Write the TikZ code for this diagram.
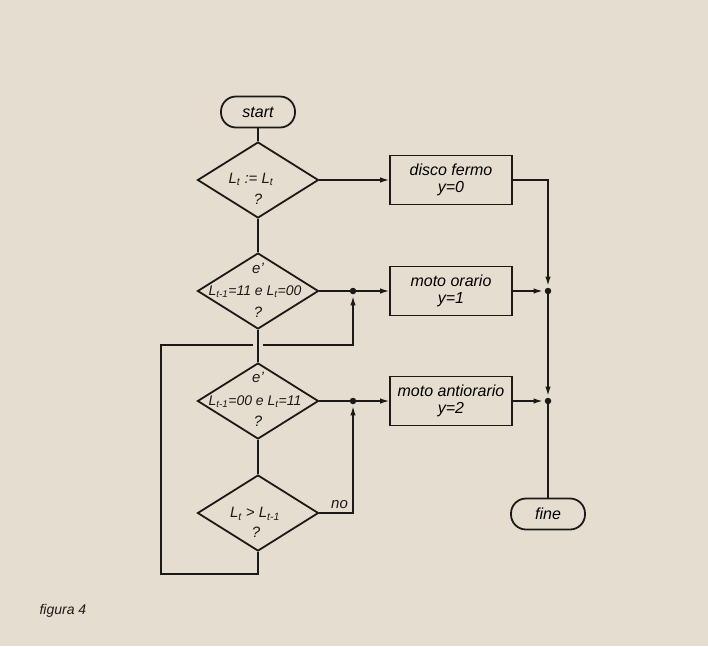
\documentclass[tikz,border=0pt]{standalone}
\usepackage{fontspec}
\setmainfont{Liberation Sans}
\usetikzlibrary{arrows.meta, calc, shapes.geometric}
\definecolor{Paper}{RGB}{229,221,207}
\definecolor{Ink}{RGB}{28,26,24}
\newcommand{\chartfont}{\fontsize{16}{17}\selectfont\itshape}
\newcommand{\dfont}{\fontsize{15}{17}\selectfont\itshape}
\newcommand{\dsmall}{\fontsize{14}{16}\selectfont\itshape}
\tikzset{
  term/.style  = {draw=Ink, line width=1.8pt, rounded corners=15pt,
                  minimum width=74pt, minimum height=31pt,
                  font=\chartfont, inner sep=0pt},
  proc/.style  = {draw=Ink, line width=1.8pt,
                  minimum width=122pt, minimum height=49pt,
                  align=center, font=\chartfont, inner sep=0pt},
  decis/.style = {diamond, draw=Ink, line width=1.8pt,
                  minimum width=121pt, minimum height=76pt, inner sep=0pt},
  dtxt/.style  = {font=\dfont, text=Ink, inner sep=0pt},
  conn/.style  = {draw=Ink, line width=1.3pt},
  arr/.style   = {conn, -{Latex[length=9pt, width=5.5pt]}},
  jdot/.style  = {circle, fill=Ink, inner sep=0pt, minimum size=6.5pt},
}

\begin{document}
\begin{tikzpicture}[x=1pt, y=-1pt]

%%──────────────────────────────────────────────────
%% Paper
%%──────────────────────────────────────────────────
\fill[Paper] (0,0) rectangle (708,646);
\useasboundingbox (0,0) rectangle (708,646);

%%──────────────────────────────────────────────────
%% Left column: tests
%%──────────────────────────────────────────────────
\node[term] (start) at (258,112) {start};

\node[decis] (eqtest) at (258,180) {};
\node[dtxt] (eqtxt) at (251,179) {L\textsubscript{t} := L\textsubscript{t}};
\node[dtxt] (eqq)   at (258,199) {?};

\node[decis] (cwtest) at (258,291) {};
\node[dtxt] (cwe)   at (258,268) {e'};
\node[dtxt, font=\dsmall] (cwtxt) at (255,292) {L\textsubscript{t-1}=11 e L\textsubscript{t}=00};
\node[dtxt] (cwq)   at (258,312) {?};

\node[decis] (acwtest) at (258,401) {};
\node[dtxt] (acwe)   at (258,377) {e'};
\node[dtxt, font=\dsmall] (acwtxt) at (255,402) {L\textsubscript{t-1}=00 e L\textsubscript{t}=11};
\node[dtxt] (acwq)   at (258,421) {?};

\node[decis] (gttest) at (258,513) {};
\node[dtxt] (gttxt) at (255,514) {L\textsubscript{t} > L\textsubscript{t-1}};
\node[dtxt] (gtq)   at (256,532) {?};

\node[jdot] (jcw)  at (353,291) {};
\node[jdot] (jacw) at (353,401) {};
\coordinate (lpA) at (161,574);
\coordinate (lpB) at (161,345);

%%──────────────────────────────────────────────────
%% Right column: actions
%%──────────────────────────────────────────────────
\node[proc] (fermo)  at (451,180) {disco fermo\\y=0};
\node[proc] (orario) at (451,291) {moto orario\\y=1};
\node[proc] (antior) at (451,401) {moto antiorario\\y=2};

\node[jdot] (bus1) at (548,291) {};
\node[jdot] (bus2) at (548,401) {};
\node[term] (fine) at (548,514) {fine};

%%──────────────────────────────────────────────────
%% Connectors
%%──────────────────────────────────────────────────
\draw[conn] (start) -- (eqtest);
\draw[arr]  (eqtest.east) -- (fermo.west);

%% loop back from last test
\draw[arr, shorten >=2pt] (gttest.south) |- (lpA) -- (lpB) -| (jcw);
\draw[Paper, line width=3pt] (253,345) -- (263,345);

\draw[conn] (eqtest) -- (cwtest);
\draw[conn] (cwtest) -- (acwtest);
\draw[conn] (acwtest) -- (gttest);

\draw[conn] (cwtest.east)  -- (jcw);
\draw[arr]  (jcw)  -- (orario.west);
\draw[conn] (acwtest.east) -- (jacw);
\draw[arr]  (jacw) -- (antior.west);
\draw[arr, shorten >=2pt] (gttest.east) -| node[pos=0.3, above, font=\dfont, text=Ink] {no} (jacw);

%% collecting bus
\draw[arr, shorten >=2pt] (fermo.east) -| (bus1);
\draw[arr, shorten >=2pt] (orario.east) -- (bus1);
\draw[arr, shorten >=2pt] (bus1) -- (bus2);
\draw[arr, shorten >=2pt] (antior.east) -- (bus2);
\draw[conn] (bus2) -- (fine);

%% caption
\node[font=\fontsize{14}{16}\selectfont\itshape, text=Ink, anchor=west] (cap) at (36,611) {figura 4};

\end{tikzpicture}
\end{document}
